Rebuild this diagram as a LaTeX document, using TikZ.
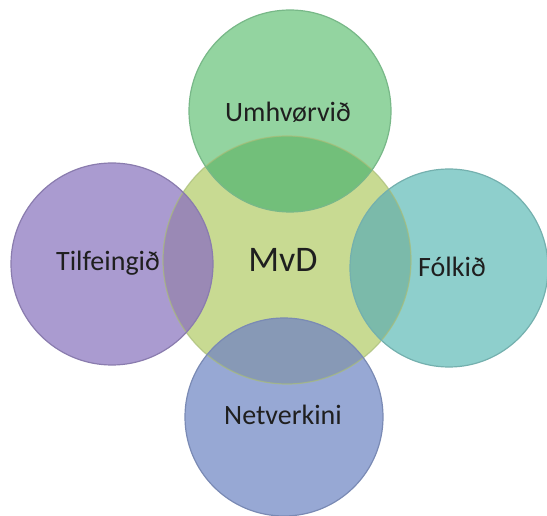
\documentclass[tikz,border=0pt]{standalone}
\usepackage{fontspec}
\setmainfont{Carlito}
\definecolor{cC}{HTML}{C8DA92}
\definecolor{cCd}{HTML}{A9BD78}
\definecolor{cG}{HTML}{93D4A0}
\definecolor{cGo}{HTML}{72BF7A}
\definecolor{cGd}{HTML}{78B888}
\definecolor{cP}{HTML}{AA9BD0}
\definecolor{cPo}{HTML}{9A89B5}
\definecolor{cPd}{HTML}{8A7CAE}
\definecolor{cT}{HTML}{8ECFCC}
\definecolor{cTo}{HTML}{7BBAAA}
\definecolor{cTd}{HTML}{74B0AE}
\definecolor{cB}{HTML}{97A8D4}
\definecolor{cBo}{HTML}{8799B6}
\definecolor{cBd}{HTML}{7A8AB4}
\begin{document}
\begin{tikzpicture}[x=1pt,y=-1pt,
  disc/.style={circle, inner sep=0pt, outer sep=0pt, minimum size=#1},
  lbl/.style={font=\fontsize{28}{30}\selectfont, text=black!88, inner sep=0pt},
  big/.style={font=\fontsize{36}{40}\selectfont, text=black!88, inner sep=0pt},
  rim/.style={line width=1.2pt}]
\useasboundingbox (0,0) rectangle (547,516);
% circles
\node[disc=248pt, fill=cC] (mvd) at (287,260) {};
\node[disc=202pt, fill=cG] (top) at (290,111) {};
\node[disc=202pt, fill=cP] (left) at (112,264) {};
\node[disc=198pt, fill=cT] (right) at (449,268) {};
\node[disc=198pt, fill=cB] (bottom) at (284,417) {};
% overlaps
\begin{scope}
  \clip (top.center) circle[radius=101];
  \fill[cGo] (mvd.center) circle[radius=124];
\end{scope}
\begin{scope}
  \clip (left.center) circle[radius=101];
  \fill[cPo] (mvd.center) circle[radius=124];
\end{scope}
\begin{scope}
  \clip (right.center) circle[radius=99];
  \fill[cTo] (mvd.center) circle[radius=124];
\end{scope}
\begin{scope}
  \clip (bottom.center) circle[radius=99];
  \fill[cBo] (mvd.center) circle[radius=124];
\end{scope}
% outlines
\draw[rim, cCd, draw opacity=0.7] (mvd.center) circle[radius=124];
\draw[rim, cGd] (top.center) circle[radius=101];
\draw[rim, cPd] (left.center) circle[radius=101];
\draw[rim, cTd] (right.center) circle[radius=99];
\draw[rim, cBd] (bottom.center) circle[radius=99];
% labels
\node[big] (tmvd) at (283,260) {MvD};
\node[lbl] (ttop) at (288,112) {Umhvørvið};
\node[lbl] (tleft) at (108,263) {Tilfeingið};
\node[lbl] (tright) at (452,267) {Fólkið};
\node[lbl] (tbottom) at (283,415) {Netverkini};
\end{tikzpicture}
\end{document}
